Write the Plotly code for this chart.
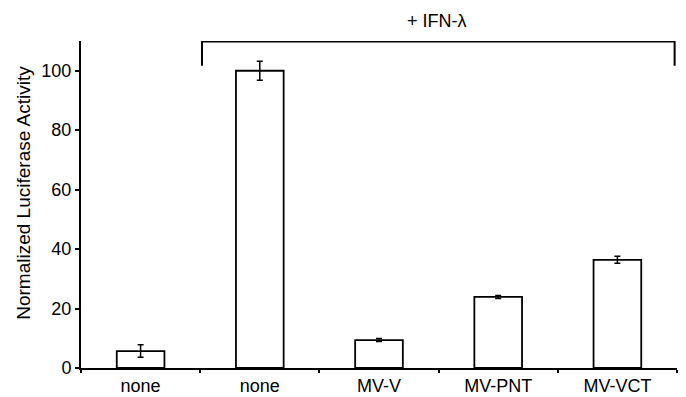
import plotly.graph_objects as go

categories = ["none", "none ", "MV-V", "MV-PNT", "MV-VCT"]
tick_labels = ["none", "none", "MV-V", "MV-PNT", "MV-VCT"]
values = [5.7, 100.0, 9.4, 23.9, 36.4]
errors = [2.1, 3.2, 0.5, 0.5, 1.2]
y_ticks = [0, 20, 40, 60, 80, 100]
bracket_label = "+ IFN-λ"
y_title = "Normalized Luciferase Activity"

font_family = "Liberation Sans, Arial, sans-serif"

fig = go.Figure()
fig.add_trace(go.Bar(
    x=categories, y=values,
    width=0.4,
    marker=dict(color="white", line=dict(color="black", width=1.8)),
    error_y=dict(type="data", array=errors, visible=True,
                 color="black", thickness=1.5, width=3),
    showlegend=False,
))

# bracket over the IFN-lambda treated groups
fig.add_shape(type="path",
              path="M 0.515,101.7 L 0.515,109.8 L 4.48,109.8 L 4.48,101.7",
              xref="x", yref="y", line=dict(color="black", width=2))
fig.add_annotation(x=0.597, y=1.0, xref="paper", yref="paper", yshift=20,
                   xanchor="center", yanchor="middle",
                   text=bracket_label, showarrow=False,
                   font=dict(size=18, color="black", family=font_family))
# y-axis title as annotation for exact placement
fig.add_annotation(x=-0.0956, y=0.536, xref="paper", yref="paper",
                   xanchor="center", yanchor="middle", textangle=-90,
                   text=y_title, showarrow=False,
                   font=dict(size=19, color="black", family=font_family))

fig.update_layout(
    width=686, height=397,
    margin=dict(l=81, r=9, t=41, b=29, autoexpand=False),
    paper_bgcolor="white", plot_bgcolor="white",
    font=dict(family=font_family, size=18, color="black"),
    bargap=0.6,
)
fig.update_xaxes(
    type="category", tickvals=categories, ticktext=tick_labels,
    tickson="boundaries", ticks="outside", ticklen=3, tickwidth=1.5, tickcolor="black",
    showline=True, linecolor="black", linewidth=2, automargin=False,
    showgrid=False, range=[-0.5, 4.5], tickfont=dict(size=18),
)
fig.update_yaxes(
    range=[0, 110], tickvals=y_ticks, ticks="outside", ticklen=4, tickwidth=1.5,
    tickcolor="black", showline=True, linecolor="black", linewidth=2,
    showgrid=False, zeroline=False, tickfont=dict(size=18), automargin=False,
)

fig.write_html("out.html", config={"displayModeBar": False},
               post_script="document.body.style.margin='0';document.body.style.overflow='hidden';")
